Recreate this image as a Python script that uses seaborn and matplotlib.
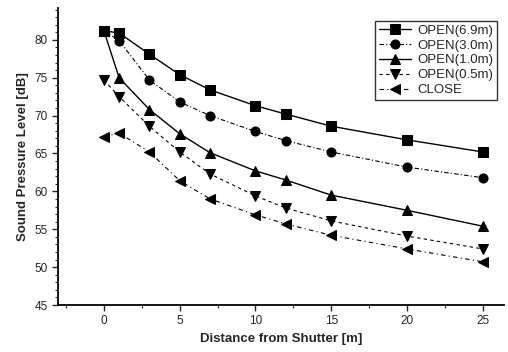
import matplotlib
matplotlib.use("Agg")
import matplotlib.pyplot as plt
import seaborn as sns
import pandas as pd
from matplotlib.ticker import MultipleLocator

distance = [0, 1, 3, 5, 7, 10, 12, 15, 20, 25]
open_69 = [81.2, 80.9, 78.1, 75.4, 73.4, 71.3, 70.2, 68.6, 66.8, 65.2]
open_30 = [81.2, 79.9, 74.7, 71.8, 70.0, 67.9, 66.7, 65.2, 63.2, 61.8]
open_10 = [81.2, 75.0, 70.8, 67.6, 65.1, 62.7, 61.5, 59.5, 57.5, 55.4]
open_05 = [74.7, 72.5, 68.6, 65.2, 62.3, 59.4, 57.8, 56.1, 54.1, 52.4]
close = [67.2, 67.7, 65.2, 61.4, 59.0, 56.9, 55.7, 54.2, 52.4, 50.7]
labels = ["OPEN(6.9m)", "OPEN(3.0m)", "OPEN(1.0m)", "OPEN(0.5m)", "CLOSE"]

sns.set_style("ticks")
plt.rcParams['font.family'] = ['Liberation Sans', 'DejaVu Sans']

fig = plt.figure(figsize=(5.08, 3.52), dpi=100)
ax = fig.add_axes([58/508, 47/352, 446/508, 297/352])

series = [open_69, open_30, open_10, open_05, close]
markers = ["s", "o", "^", "v", "<"]
styles = ["-", (0, (4, 2, 1, 2)), "-", (0, (3, 3)), (0, (4, 3, 1, 3))]
widths = [1.0, 0.8, 1.0, 0.8, 0.8]
for vals, lab, m, ls, lw in zip(series, labels, markers, styles, widths):
    df = pd.DataFrame({"x": distance, "y": vals})
    sns.lineplot(data=df, x="x", y="y", ax=ax, color="black", marker=m,
                 markersize=6.5, linestyle=ls, linewidth=lw, label=lab,
                 markeredgecolor="black")

ax.set_xlim(-3.03, 26.4)
ax.set_ylim(45, 84.2)
ax.xaxis.set_major_locator(MultipleLocator(5))
ax.xaxis.set_minor_locator(MultipleLocator(2.5))
ax.yaxis.set_major_locator(MultipleLocator(5))
ax.yaxis.set_minor_locator(MultipleLocator(1))
ax.tick_params(axis="both", which="major", length=4, width=1, labelsize=8.5, direction="out")
ax.tick_params(axis="both", which="minor", length=2, width=0.8, direction="out")
for s in ["top", "right"]:
    ax.spines[s].set_visible(False)
for s in ["left", "bottom"]:
    ax.spines[s].set_linewidth(1.3)
    ax.spines[s].set_color("black")

ax.set_xlabel("Distance from Shutter [m]", fontsize=9.5, fontweight="bold")
ax.set_ylabel("Sound Pressure Level [dB]", fontsize=9.5, fontweight="bold")

leg = ax.legend(loc="upper right", bbox_to_anchor=(1.0, 0.98), fontsize=9.5, frameon=True,
                fancybox=False, edgecolor="black", handlelength=2.4,
                borderpad=0.3, labelspacing=0.2, handletextpad=0.5)
leg.get_frame().set_linewidth(1.0)

fig.savefig("out.png", dpi=100)
